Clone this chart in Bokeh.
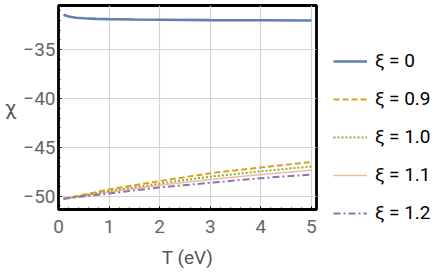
from bokeh.plotting import figure
from bokeh.models import Range1d, SingleIntervalTicker, Legend, LegendItem
from bokeh.embed import file_html
from bokeh.resources import INLINE

# ---- data ----
T_xi0 = [0.1, 0.2, 0.35, 0.5, 0.75, 1, 1.5, 2, 3, 4, 5]
chi_xi0 = [-31.42, -31.6, -31.72, -31.78, -31.84, -31.87, -31.91, -31.93, -31.97, -31.98, -32.0]

T_vals = [0.1, 1, 2, 3, 4, 5]
chi_xi09 = [-50.27, -49.3, -48.45, -47.65, -47.05, -46.5]
chi_xi10 = [-50.27, -49.45, -48.7, -48.0, -47.45, -46.95]
chi_xi11 = [-50.27, -49.57, -48.88, -48.3, -47.78, -47.35]
chi_xi12 = [-50.27, -49.72, -49.1, -48.62, -48.15, -47.78]

series_labels = ["ξ = 0", "ξ = 0.9", "ξ = 1.0", "ξ = 1.1", "ξ = 1.2"]
y_tick_values = [-50, -45, -40, -35]
y_tick_labels = ["−50", "−45", "−40", "−35"]
x_label = "T (eV)"
y_label = "χ"

FONT = "Roboto"

p = figure(
    frame_width=258, frame_height=204,
    x_range=Range1d(0, 5.1), y_range=Range1d(-51.36, -30.47),
    output_backend="svg", toolbar_location=None,
    min_border_left=58, min_border_right=118,
    min_border_top=5, min_border_bottom=62,
)
p.background_fill_color = "white"
p.border_fill_color = "white"
p.outline_line_color = "black"
p.outline_line_width = 2.8
p.outline_line_alpha = 1.0

# grid
p.xgrid.grid_line_color = "#d4d4d4"
p.ygrid.grid_line_color = "#d4d4d4"
p.xgrid.grid_line_width = 1.2
p.ygrid.grid_line_width = 1.2

# axes
p.xaxis.ticker = SingleIntervalTicker(interval=1, num_minor_ticks=5)
p.yaxis.ticker = SingleIntervalTicker(interval=5, num_minor_ticks=5)
p.yaxis.major_label_overrides = dict(zip(y_tick_values, y_tick_labels))
for ax in (p.xaxis, p.yaxis):
    ax.axis_line_color = None
    ax.major_tick_in = 3
    ax.major_tick_out = 0
    ax.minor_tick_in = 2
    ax.minor_tick_out = 0
    ax.major_tick_line_color = "black"
    ax.minor_tick_line_color = "black"
    ax.major_label_text_font = FONT
    ax.major_label_text_font_size = "19px"
    ax.major_label_text_color = "#666666"
    ax.axis_label_text_font = FONT
    ax.axis_label_text_font_size = "19px"
    ax.axis_label_text_color = "#555555"
    ax.axis_label_text_font_style = "normal"

p.xaxis.axis_label = x_label
p.xaxis.major_label_standoff = 10
p.xaxis.axis_label_standoff = 10
p.yaxis.axis_label = y_label
p.yaxis.axis_label_orientation = "horizontal"
p.yaxis.axis_label_text_font_size = "21px"
p.yaxis.major_label_standoff = 3
p.yaxis.axis_label_standoff = 4

# lines
r0 = p.line(T_xi0, chi_xi0, line_color="#5E81B5", line_width=2.6)
r1 = p.line(T_vals, chi_xi09, line_color="#E19C24", line_width=2, line_dash="6 3")
r2 = p.line(T_vals, chi_xi10, line_color="#8FB032", line_width=2, line_dash="2 2")
r3 = p.line(T_vals, chi_xi11, line_color="#EB6235", line_alpha=0.45, line_width=1.5)
r4 = p.line(T_vals, chi_xi12, line_color="#8778B3", line_width=2, line_dash="7 3 2 3")

legend = Legend(
    items=[LegendItem(label=l, renderers=[r]) for l, r in zip(series_labels, [r0, r1, r2, r3, r4])],
    location=(17, -15),
    border_line_color=None, background_fill_alpha=0,
    padding=0, margin=0, spacing=15,
    glyph_width=34, glyph_height=20, label_height=20, label_standoff=8,
    label_text_font=FONT, label_text_font_size="19px", label_text_color="black",
)
p.add_layout(legend, "right")

open("out.html", "w").write(file_html(p, INLINE))
